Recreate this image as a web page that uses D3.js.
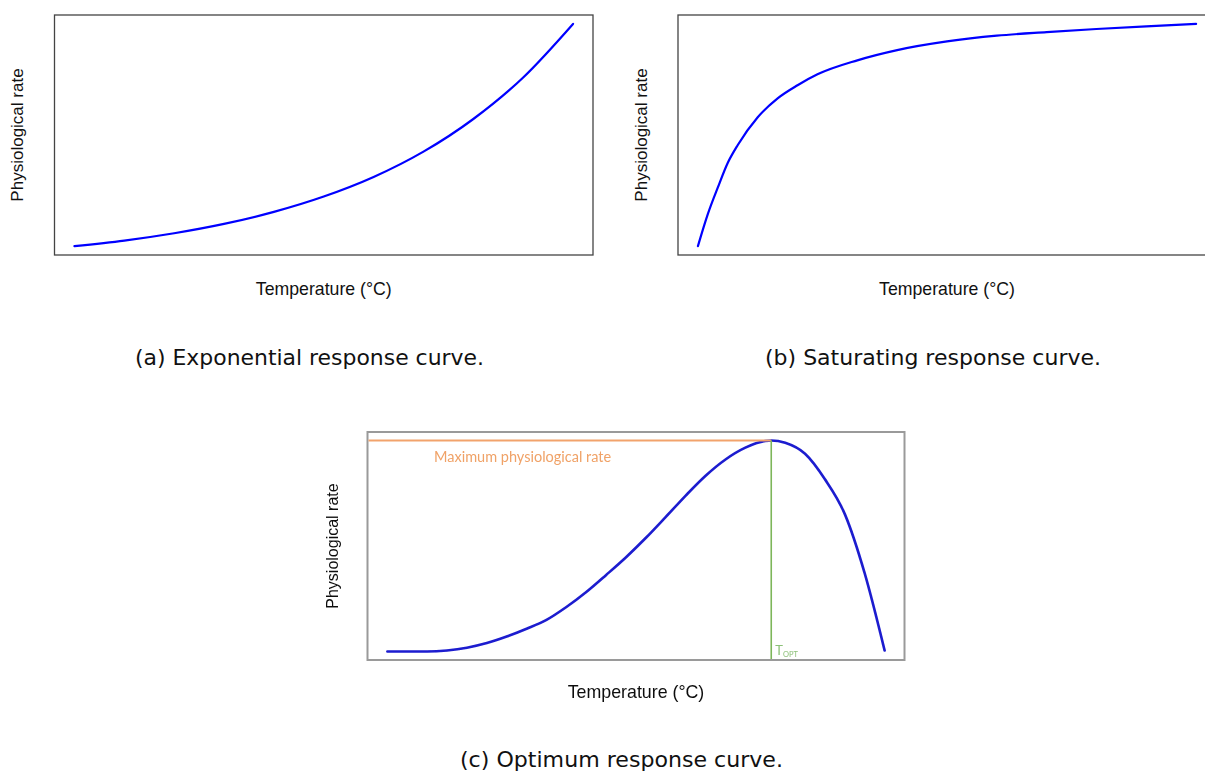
<!DOCTYPE html>
<html>
<head>
<meta charset="utf-8">
<script src="https://cdn.jsdelivr.net/npm/d3@7"></script>
<style>
  html, body { margin: 0; padding: 0; background: #fff; }
  svg { display: block; }
</style>
</head>
<body>
<svg id="fig" width="1205" height="771"></svg>
<script>
// Temperature (°C) and relative physiological rate for the three response shapes
const tempExp = [0, 2.5, 5, 7.5, 10, 12.5, 15, 17.5, 20, 22.5, 25];
const rateExp = [0, 0.025, 0.058, 0.100, 0.154, 0.223, 0.311, 0.425, 0.572, 0.759, 1];

const tempSat = [0, 0.5, 1, 1.5, 2, 3, 4, 5, 6, 8, 10, 12.5, 15, 17.5, 20, 22.5, 25];
const rateSat = [0, 0.145, 0.264, 0.375, 0.455, 0.580, 0.665, 0.724, 0.773, 0.836, 0.882, 0.921, 0.947, 0.963, 0.977, 0.989, 1];

const tempOpt = [0, 1, 2, 3, 4, 5, 6, 7, 8, 9, 10, 11, 12, 13, 14, 15, 16, 17, 18, 19, 19.3, 20, 21, 22, 23, 24, 25];
const rateOpt = [0, 0, 0, 0.005, 0.018, 0.040, 0.071, 0.108, 0.150, 0.211, 0.282, 0.363, 0.447, 0.539, 0.638, 0.739, 0.833, 0.910, 0.966, 0.997, 1, 0.989, 0.937, 0.816, 0.651, 0.370, 0.005];

const tOpt = 19.3;       // optimum temperature
const rateMax = 1;       // maximum physiological rate

const xLabel = "Temperature (°C)";
const yLabel = "Physiological rate";
const captions = ["(a) Exponential response curve.", "(b) Saturating response curve.", "(c) Optimum response curve."];
const maxLabel = "Maximum physiological rate";

const svg = d3.select("#fig");

// blur used for the lower panel, which is a soft raster figure
svg.append("defs").append("filter").attr("id", "soft")
  .attr("x", "-5%").attr("y", "-5%").attr("width", "110%").attr("height", "110%")
  .append("feGaussianBlur").attr("stdDeviation", 0.55);

// R-style 4% padding around the data extent
function padded(ext) {
  const d = (ext[1] - ext[0]) * 0.04;
  return [ext[0] - d, ext[1] + d];
}

function panel(opts) {
  const { temps, rates, box, g, lineColor, lineWidth, frameColor, frameWidth, yLabelX, yLabelSize, xLabelSize, xLabelY } = opts;
  const x = d3.scaleLinear().domain(padded(d3.extent(temps))).range([box.l, box.r]);
  const y = d3.scaleLinear().domain(padded(d3.extent(rates))).range([box.b, box.t]);
  const pts = temps.map((t, i) => [t, rates[i]]);

  g.append("rect")
    .attr("x", box.l).attr("y", box.t)
    .attr("width", box.r - box.l).attr("height", box.b - box.t)
    .attr("fill", "none").attr("stroke", frameColor).attr("stroke-width", frameWidth);

  g.append("path")
    .datum(pts)
    .attr("fill", "none")
    .attr("stroke", lineColor)
    .attr("stroke-width", lineWidth)
    .attr("stroke-linejoin", "round")
    .attr("stroke-linecap", "round")
    .attr("d", d3.line().x(d => x(d[0])).y(d => y(d[1])).curve(d3.curveMonotoneX));

  g.append("text")
    .attr("x", (box.l + box.r) / 2).attr("y", xLabelY)
    .attr("text-anchor", "middle")
    .style("font-family", "'Liberation Sans', Arial, sans-serif")
    .style("font-size", xLabelSize + "px").attr("fill", "#111")
    .text(xLabel);

  g.append("text")
    .attr("transform", `translate(${yLabelX},${(box.t + box.b) / 2}) rotate(-90)`)
    .attr("text-anchor", "middle")
    .style("font-family", "'Liberation Sans', Arial, sans-serif")
    .style("font-size", yLabelSize + "px").attr("fill", "#111")
    .text(yLabel);

  return { x, y };
}

// (a) exponential
panel({
  temps: tempExp, rates: rateExp,
  box: { l: 54.5, r: 593, t: 15, b: 255 },
  g: svg.append("g"),
  lineColor: "#0000ff", lineWidth: 2.2, frameColor: "#444", frameWidth: 1.3,
  yLabelX: 23, yLabelSize: 17, xLabelSize: 17.7, xLabelY: 295
});

// (b) saturating
panel({
  temps: tempSat, rates: rateSat,
  box: { l: 678, r: 1216, t: 15, b: 255 },
  g: svg.append("g"),
  lineColor: "#0000ff", lineWidth: 2.2, frameColor: "#444", frameWidth: 1.3,
  yLabelX: 647, yLabelSize: 17, xLabelSize: 17.7, xLabelY: 295
});

// (c) optimum, with reference lines for the peak
const gc = svg.append("g").attr("filter", "url(#soft)");
const sc = panel({
  temps: tempOpt, rates: rateOpt,
  box: { l: 367.5, r: 904.5, t: 432, b: 660 },
  g: gc,
  lineColor: "#1c1ccf", lineWidth: 2.6, frameColor: "#9a9a9a", frameWidth: 2,
  yLabelX: 338, yLabelSize: 16, xLabelSize: 17.8, xLabelY: 698
});

gc.append("line")
  .attr("x1", 368.5).attr("x2", sc.x(tOpt))
  .attr("y1", sc.y(rateMax)).attr("y2", sc.y(rateMax))
  .attr("stroke", "#f2a36c").attr("stroke-width", 2);

gc.append("line")
  .attr("x1", sc.x(tOpt)).attr("x2", sc.x(tOpt))
  .attr("y1", sc.y(rateMax)).attr("y2", 659)
  .attr("stroke", "#7db65a").attr("stroke-width", 1.6);

gc.append("text")
  .attr("x", 434).attr("y", 461.5)
  .style("font-family", "Lato, 'Open Sans', sans-serif")
  .style("font-size", "14.5px").attr("fill", "#f0a267")
  .text(maxLabel);

const topt = gc.append("text")
  .attr("x", sc.x(tOpt) + 4).attr("y", 655)
  .style("font-family", "Lato, 'Open Sans', sans-serif")
  .attr("fill", "#8cc078");
topt.append("tspan").style("font-size", "13px").text("T");
topt.append("tspan").style("font-size", "7.5px").attr("dy", 2).text("OPT");

// captions: centre x, baseline y, set width
const capPos = [[309.5, 365, 349], [933, 365, 336], [621.5, 767, 323]];
captions.forEach((c, i) => {
  svg.append("text")
    .attr("x", capPos[i][0]).attr("y", capPos[i][1])
    .attr("text-anchor", "middle")
    .attr("textLength", capPos[i][2])
    .attr("lengthAdjust", "spacingAndGlyphs")
    .style("font-family", "'DejaVu Sans', sans-serif")
    .style("font-size", "21px").attr("fill", "#111")
    .text(c);
});
</script>
</body>
</html>
